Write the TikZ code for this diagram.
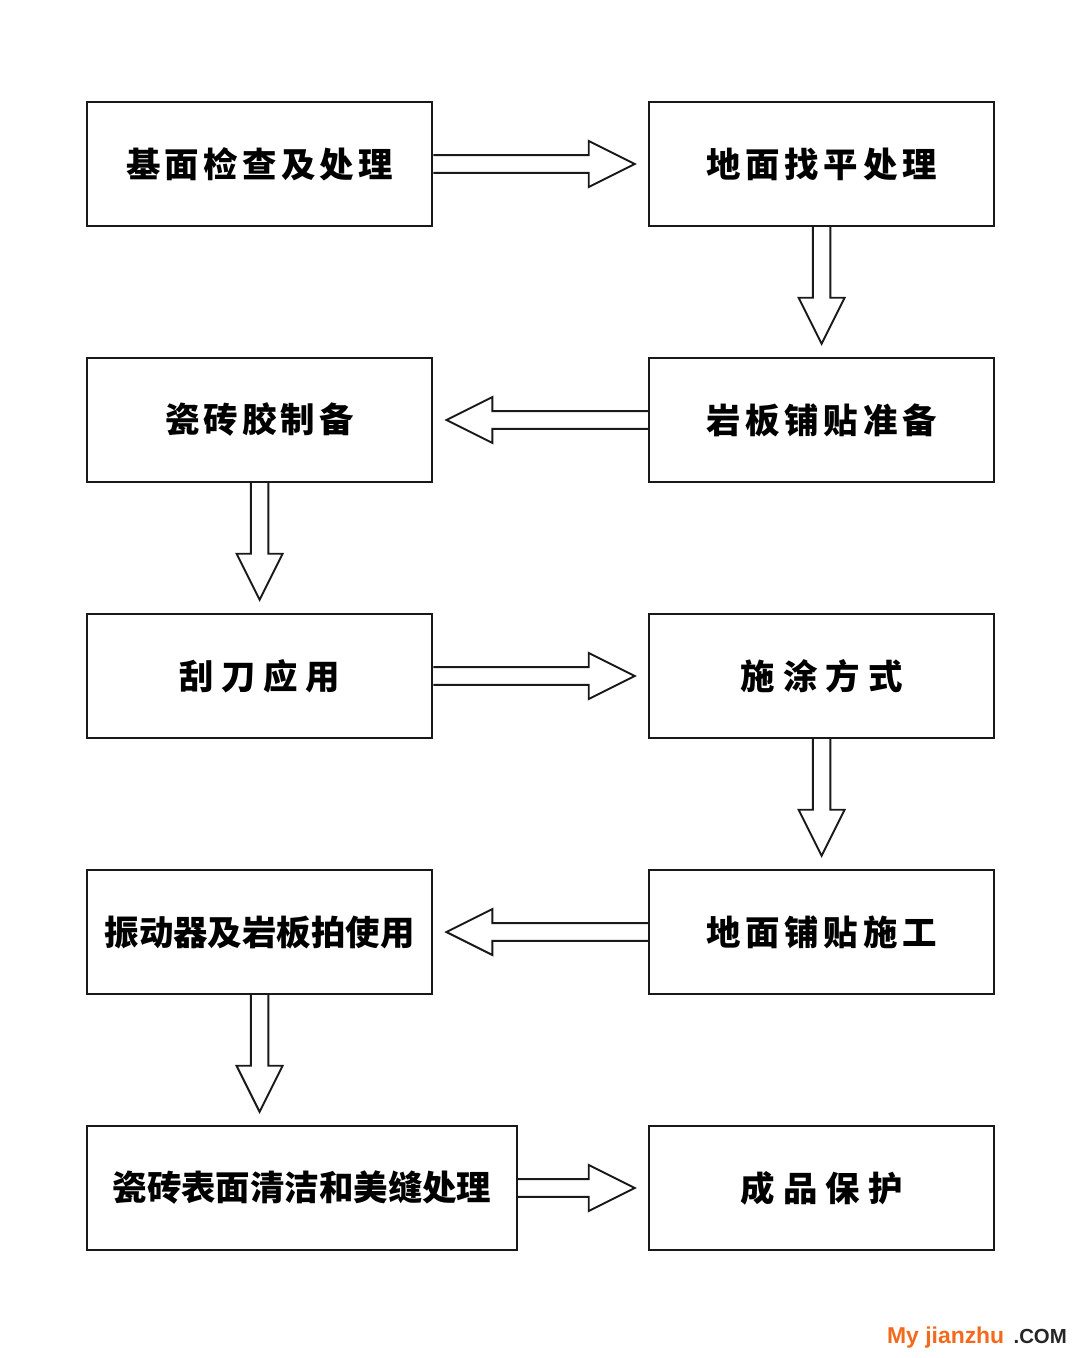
\documentclass[tikz,border=0pt]{standalone}
\usepackage{fontspec}
\newfontfamily\cjk{Noto Sans CJK SC}
\setsansfont{Liberation Sans}
\usetikzlibrary{calc,positioning}
\definecolor{jzorange}{HTML}{F26A1B}
\newcommand\spaced[2]{{\addfontfeature{LetterSpace=#1}#2}}
\tikzset{
  stepbox/.style={
    draw=black!90, line width=1.5pt,
    minimum width=8.63cm, minimum height=3.1cm,
    font=\cjk\bfseries\fontsize{24.5}{28}\selectfont
  },
  flow/.style={
    draw=black!90, line width=1.4pt, line join=miter,
    to path={
      let \p1=($(\tikztotarget)!\Gap!(\tikztostart)$),
          \p2=($(\p1)!\Hl!(\tikztostart)$) in
      ($(\tikztostart)!\Sw!90:(\p1)$)
      -- ($(\p2)!\Sw!-90:(\tikztostart)$)
      -- ($(\p2)!\Hw!-90:(\tikztostart)$)
      -- (\p1)
      -- ($(\p2)!\Hw!90:(\tikztostart)$)
      -- ($(\p2)!\Sw!90:(\tikztostart)$)
      -- ($(\tikztostart)!\Sw!-90:(\p1)$)
    }
  }
}

\begin{document}
\begin{tikzpicture}
  \useasboundingbox (0,0) rectangle (27,-33.95);
  \fill[white] (0,0) rectangle (27,-33.95);
  \def\Sw{0.22cm}
  \def\Hw{0.575cm}
  \def\Hl{1.15cm}
  \def\Gap{0.33cm}

  % left and right column of steps
  \node[stepbox] (base)    at (6.49,-4.1)   {\spaced{12.6}{基面检查及处理}};
  \node[stepbox] (level)   at (20.54,-4.1)  {\spaced{13.5}{地面找平处理}};
  \node[stepbox] (glue)    at (6.49,-10.5)  {\spaced{12}{瓷砖胶制备}};
  \node[stepbox] (prep)    at (20.54,-10.5) {\spaced{13.5}{岩板铺贴准备}};
  \node[stepbox] (trowel)  at (6.49,-16.9)  {\spaced{22}{刮刀应用}};
  \node[stepbox] (apply)   at (20.54,-16.9) {\spaced{24}{施涂方式}};
  \node[stepbox] (vibrate) at (6.49,-23.3)  {振动器及岩板拍使用};
  \node[stepbox] (lay)     at (20.54,-23.3) {\spaced{13.5}{地面铺贴施工}};
  \node[stepbox, minimum width=10.75cm] (clean) at (7.55,-29.7) {瓷砖表面清洁和美缝处理};
  \node[stepbox] (protect) at (20.54,-29.7) {\spaced{24}{成品保护}};

  % hollow arrows between the steps
  \draw[flow] (base.east) to (level.west);
  \draw[flow] (level.south) to (prep.north);
  \draw[flow] (prep.west) to (glue.east);
  \draw[flow] (glue.south) to (trowel.north);
  \draw[flow] (trowel.east) to (apply.west);
  \draw[flow] (apply.south) to (lay.north);
  \draw[flow] (lay.west) to (vibrate.east);
  \draw[flow] (vibrate.south) to (vibrate.south |- clean.north);
  \draw[flow] (clean.east) to (protect.west);

  % watermark
  \node[anchor=base west, inner sep=0, text=jzorange,
        font=\sffamily\bfseries\fontsize{16.3}{18}\selectfont] (wm1) at (22.17,-33.58) {My jianzhu};
  \node[anchor=base west, inner sep=0, text=black!85,
        font=\sffamily\bfseries\fontsize{14.5}{18}\selectfont] (wm2) at ($(wm1.base east)+(0.22,0)$) {.COM};
\end{tikzpicture}
\end{document}
